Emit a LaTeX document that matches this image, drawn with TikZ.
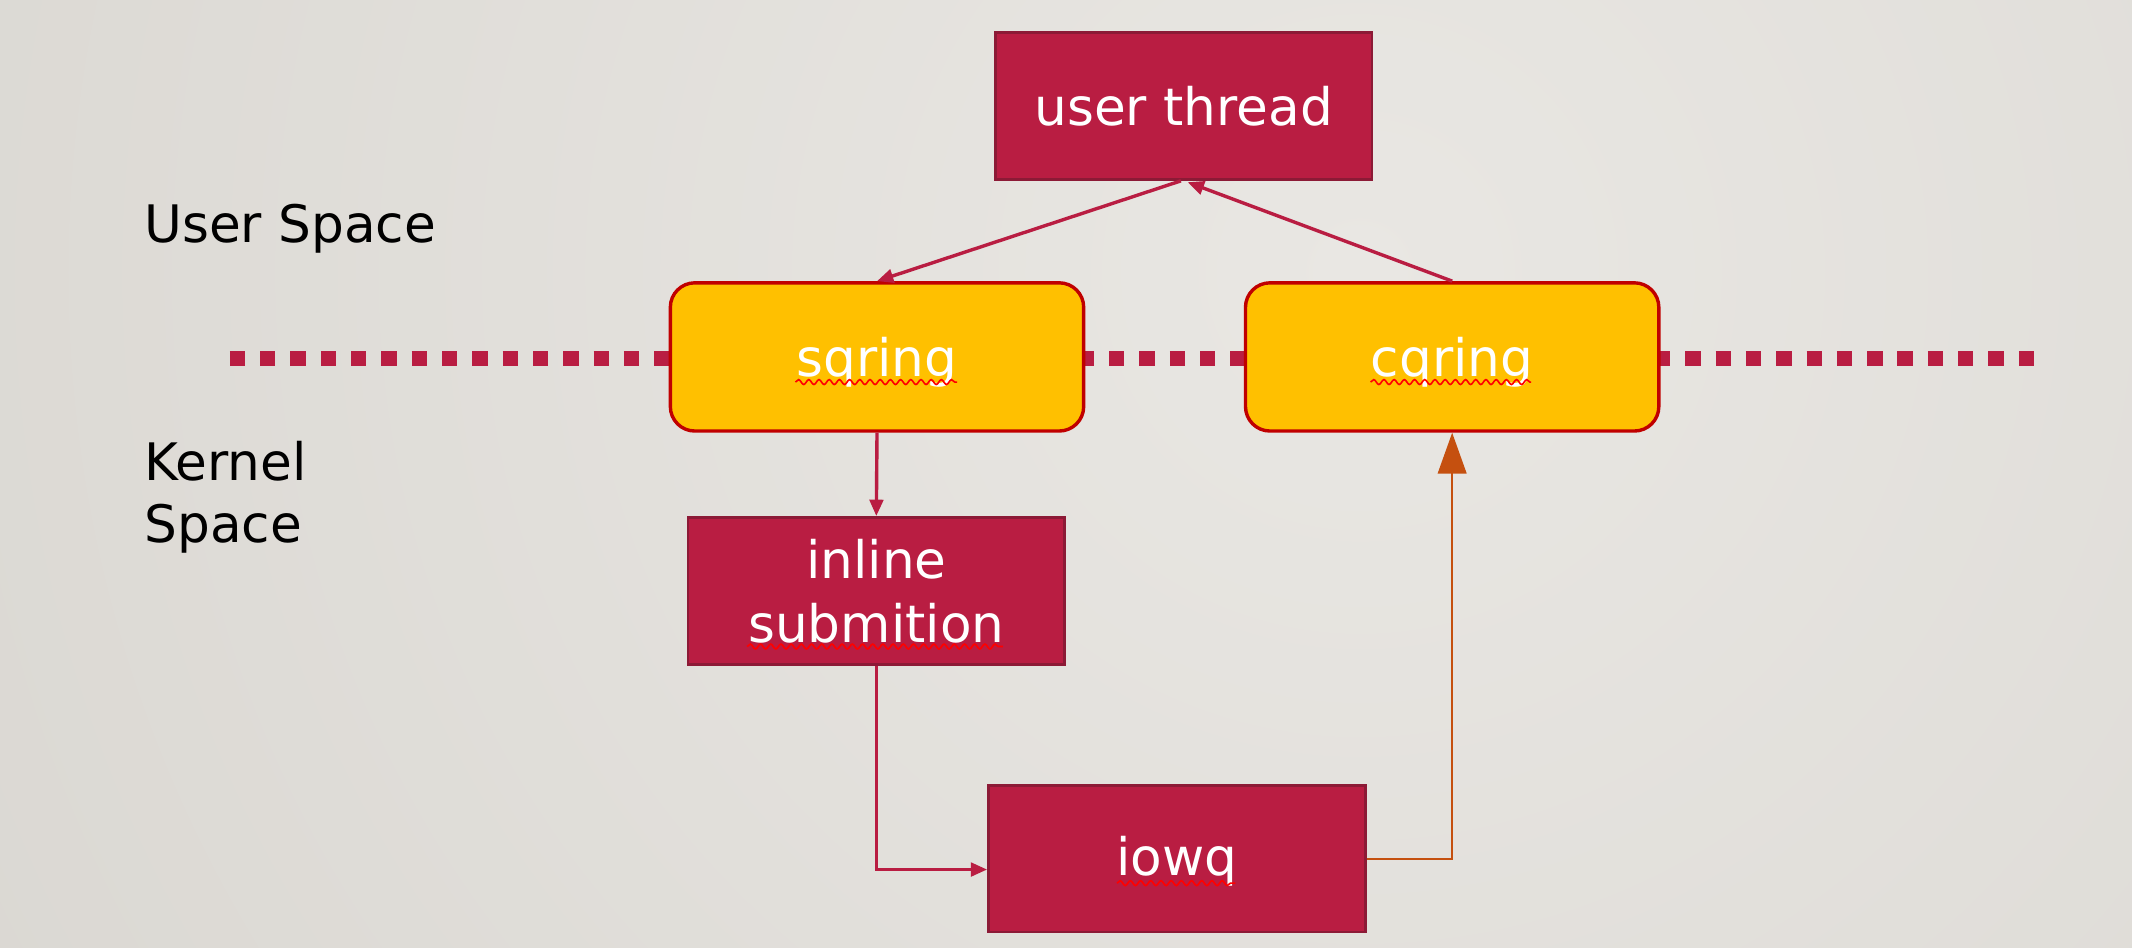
\documentclass[tikz,border=0pt]{standalone}
\usepackage{fontspec}
\setmainfont{DejaVu Sans}
\usetikzlibrary{arrows.meta,decorations.pathmorphing,calc}
\definecolor{crim}{HTML}{B91D42}
\definecolor{crimedge}{HTML}{8C1A36}
\definecolor{gold}{HTML}{FFC000}
\definecolor{goldedge}{HTML}{C00000}
\definecolor{orng}{HTML}{C5500F}
\definecolor{bgbase}{HTML}{D1CEC8}
\definecolor{bglight}{HTML}{E9E7E3}
\definecolor{squig}{HTML}{FF0000}
\begin{document}
\begin{tikzpicture}[x=1pt,y=-1pt,
  bigfont/.style={font=\fontsize{38}{47}\selectfont},
  redbox/.style={draw=crimedge, line width=2pt, fill=crim, text=white, bigfont,
    minimum width=277pt, minimum height=108pt, inner sep=0pt, align=center},
  goldbox/.style={draw=goldedge, line width=2.5pt, fill=gold, text=white, bigfont,
    minimum width=304pt, minimum height=109pt, inner sep=0pt, rounded corners=18pt,
    text depth=0pt},
  label/.style={bigfont, text=black, inner sep=0pt, align=left},
  conn/.style={draw=crim, line width=2.5pt, -{Triangle[length=12pt,width=10pt]}},
  oconn/.style={draw=orng, line width=1.6pt, -{Triangle[length=30pt,width=21pt]}},
  spell/.style={draw=squig, line width=1.2pt, decorate,
    decoration={snake, amplitude=1.8pt, segment length=7.5pt}},
  dotline/.style={draw=crim, line width=11pt, dash pattern=on 11.3pt off 11pt}
]
% background
\useasboundingbox (0,0) rectangle (1568,697);
\fill[bgbase] (0,0) rectangle (1568,697);
\begin{scope}
  \clip (0,0) rectangle (1568,697);
  \shade[inner color=bglight, outer color=bgbase] (1000,200) circle (1900pt);
\end{scope}

% boundary line
\coordinate (dl) at (169,264);
\coordinate (dr) at (1501,264);
\draw[dotline] (dl) -- (dr);

% labels
\node[label, anchor=base west] (us) at (106,178) {User Space};
\node[label, anchor=north west, font=\fontsize{38}{46}\selectfont] (ks) at (106,324) {Kernel\\Space};

% nodes
\node[redbox] (ut) at (870.5,78) {user thread};
\node[goldbox] (sq) at (645,262.5) {sqring};
\node[goldbox] (cq) at (1068,262.5) {cqring};
\node[redbox] (inl) at (644.5,434.5) {inline\\submition};
\node[redbox, text depth=4pt] (iowq) at (865.5,631.5) {iowq};

% spell-check squiggles
\draw[spell] ($(sq.center)+(-60,18.5)$) -- ($(sq.center)+(59,18.5)$);
\draw[spell] ($(cq.center)+(-60,18.5)$) -- ($(cq.center)+(58,18.5)$);
\draw[spell] ($(inl.center)+(-95,41)$) -- ($(inl.center)+(93,41)$);
\draw[spell] ($(iowq.center)+(-44,18)$) -- ($(iowq.center)+(43,18)$);

% connectors
\draw[conn] ($(ut.south)+(-2,0)$) -- (sq.north);
\draw[conn] (cq.north) -- ($(ut.south)+(3,1)$);
\draw[conn] (sq.south) -- (inl.north);
\coordinate (iowqin) at ($(iowq.west)+(0,8)$);
\draw[conn] (inl.south) |- (iowqin);
\draw[oconn] (iowq.east) -| (cq.south);
\end{tikzpicture}
\end{document}
